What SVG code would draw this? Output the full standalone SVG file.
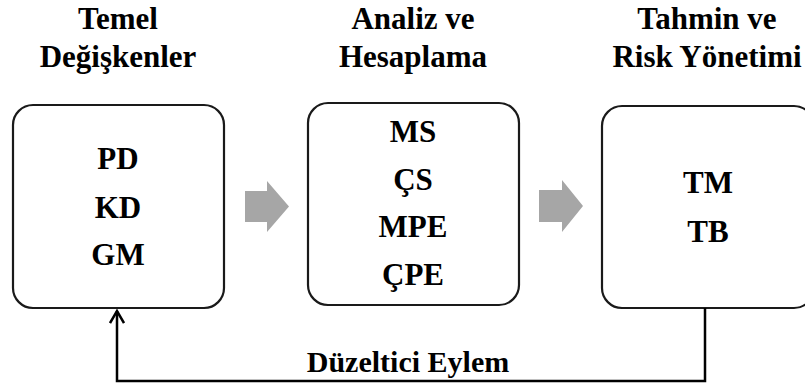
<svg xmlns="http://www.w3.org/2000/svg" width="805" height="385" viewBox="0 0 805 385">
  <defs>
    <style>
      text { font-family: "Liberation Serif", "Times New Roman", serif; font-weight: bold; font-size: 31px; fill: #000; text-anchor: middle; }
      .note { font-size: 30px; }
      .box { fill: #fff; stroke: #1a1a1a; stroke-width: 2.2; }
      .flow { fill: #a6a6a6; }
      .link { fill: none; stroke: #000; stroke-width: 2.5; }
    </style>
    <marker id="openHead" viewBox="0 0 16 16" refX="14" refY="8" markerWidth="16" markerHeight="16" markerUnits="userSpaceOnUse" orient="auto">
      <path d="M2,1 L14,8 L2,15" fill="none" stroke="#000" stroke-width="2.5"/>
    </marker>
  </defs>
  <rect width="805" height="385" fill="#fff"/>

  <!-- column headings -->
  <g id="headings">
    <text x="118" y="29">Temel</text>
    <text x="118" y="67">Değişkenler</text>
    <text x="413" y="29">Analiz ve</text>
    <text x="413" y="67">Hesaplama</text>
    <text x="707" y="29">Tahmin ve</text>
    <text x="707" y="67">Risk Yönetimi</text>
  </g>

  <!-- stage 1 -->
  <g id="temel">
    <rect class="box" x="13" y="105" width="211" height="203" rx="20"/>
    <text x="118" y="169">PD</text>
    <text x="118" y="218">KD</text>
    <text x="118" y="265">GM</text>
  </g>

  <!-- stage 2 -->
  <g id="analiz">
    <rect class="box" x="308" y="103" width="211" height="202" rx="20"/>
    <text x="413" y="142">MS</text>
    <text x="413" y="190">ÇS</text>
    <text x="413" y="237">MPE</text>
    <text x="413" y="285">ÇPE</text>
  </g>

  <!-- stage 3 -->
  <g id="tahmin">
    <rect class="box" x="602" y="106" width="212" height="202" rx="20"/>
    <text x="708" y="193">TM</text>
    <text x="708" y="242">TB</text>
  </g>

  <!-- connectors -->
  <g id="connectors">
    <path class="flow" d="M245,191 H267 V181 L289,206.5 L267,232 V222 H245 Z"/>
    <path class="flow" d="M539,190 H562 V180 L583,206 L562,232 V222 H539 Z"/>
    <path class="link" d="M705,308 V381 H117 V311" marker-end="url(#openHead)"/>
    <text class="note" x="408" y="372">Düzeltici Eylem</text>
  </g>
</svg>
